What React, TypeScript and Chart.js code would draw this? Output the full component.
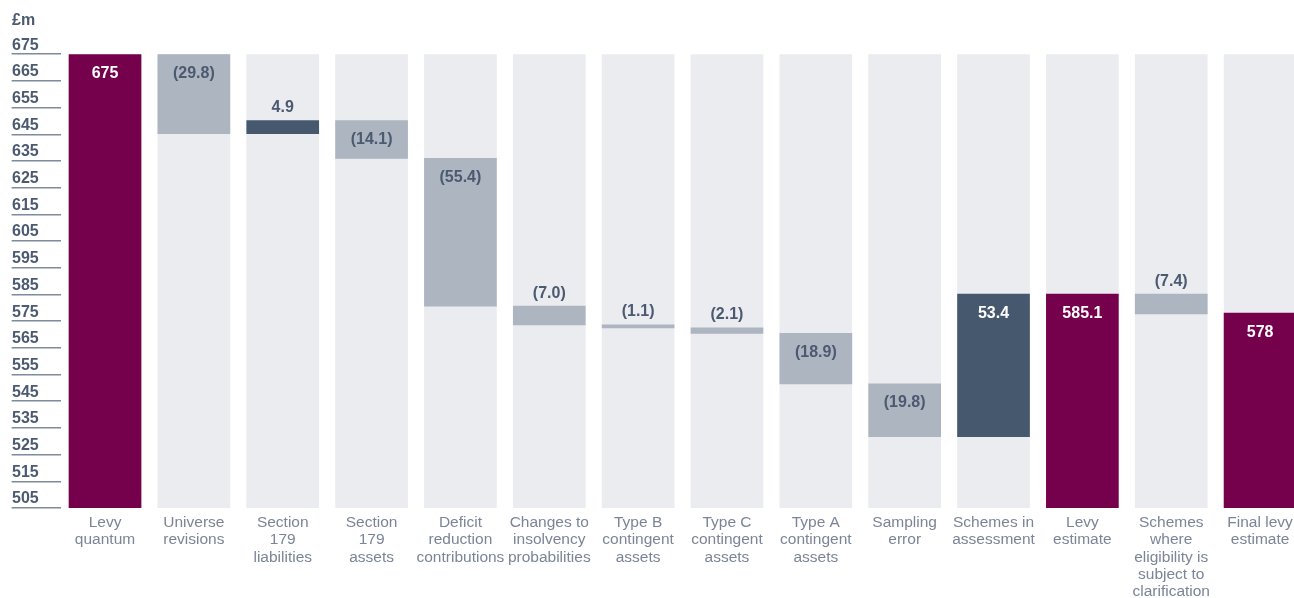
import React, { useEffect, useRef } from "react";
import { Chart, registerables } from "chart.js";

Chart.register(...registerables);

const categories: string[][] = [
  ["Levy", "quantum"],
  ["Universe", "revisions"],
  ["Section", "179", "liabilities"],
  ["Section", "179", "assets"],
  ["Deficit", "reduction", "contributions"],
  ["Changes to", "insolvency", "probabilities"],
  ["Type B", "contingent", "assets"],
  ["Type C", "contingent", "assets"],
  ["Type A", "contingent", "assets"],
  ["Sampling", "error"],
  ["Schemes in", "assessment"],
  ["Levy", "estimate"],
  ["Schemes", "where", "eligibility is", "subject to", "clarification"],
  ["Final levy", "estimate"],
];

const values: number[] = [675, -29.8, 4.9, -14.1, -55.4, -7.0, -1.1, -2.1, -18.9, -19.8, 53.4, 585.1, -7.4, 578];
const kinds: string[] = ["total", "delta", "delta", "delta", "delta", "delta", "delta", "delta", "delta", "delta", "delta", "total", "delta", "total"];

const yTicks: number[] = [505, 515, 525, 535, 545, 555, 565, 575, 585, 595, 605, 615, 625, 635, 645, 655, 665, 675];
const yMin = 505;
const yMax = 675;

const PURPLE = "#75004b";
const SLATE = "#46586e";
const GREY = "#adb5c1";
const BG = "#ebecf0";
const TEXT = "#4b5a70";
const FONT = "'Liberation Sans', Arial, Helvetica, sans-serif";

function buildRanges(): [number, number][] {
  let running = yMin;
  return values.map((v, i) => {
    if (kinds[i] === "total") {
      running = v;
      return [yMin, v];
    }
    const start = running;
    const end = running + v;
    running = end;
    return [Math.min(start, end), Math.max(start, end)];
  });
}

function labelText(i: number): string {
  const v = values[i];
  if (kinds[i] === "total") return String(v);
  if (v < 0) return "(" + Math.abs(v).toFixed(1) + ")";
  return v.toFixed(1);
}

function barColor(i: number): string {
  if (kinds[i] === "total") return PURPLE;
  return values[i] >= 0 ? SLATE : GREY;
}

const labelPlugin = {
  id: "waterfallLabels",
  afterDatasetsDraw(chart: any) {
    const meta = chart.getDatasetMeta(0);
    const ctx = chart.ctx;
    ctx.save();
    ctx.font = "bold 16px " + FONT;
    ctx.textAlign = "center";
    ctx.textBaseline = "middle";
    meta.data.forEach((el: any, i: number) => {
      const top = Math.min(el.y, el.base);
      const h = Math.abs(el.base - el.y);
      const inside = h > 30;
      let y: number;
      let color: string;
      if (inside) {
        y = top + 19;
        color = barColor(i) === GREY ? TEXT : "#ffffff";
      } else {
        y = top - 13;
        color = TEXT;
      }
      ctx.fillStyle = color;
      ctx.fillText(labelText(i), el.x, y);
    });
    ctx.restore();
  },
};

export default function App() {
  const ref = useRef<HTMLCanvasElement>(null);
  useEffect(() => {
    if (!ref.current) return;
    const ranges = buildRanges();
    const chart = new Chart(ref.current, {
      type: "bar",
      data: {
        labels: categories as any,
        datasets: [
          {
            data: ranges as any,
            backgroundColor: values.map((_, i) => barColor(i)),
            barThickness: 72,
            grouped: false,
            order: 1,
          } as any,
          {
            data: categories.map(() => [yMin, yMax]) as any,
            backgroundColor: BG,
            barThickness: 72,
            grouped: false,
            order: 2,
          } as any,
        ],
      },
      options: {
        animation: false,
        responsive: false,
        layout: { padding: { left: 12, right: 5.5, top: 0, bottom: 0 } },
        plugins: {
          legend: { display: false },
          tooltip: { enabled: false },
          title: {
            display: true,
            text: "£m",
            align: "start",
            color: TEXT,
            font: { family: FONT, size: 16, weight: "bold", lineHeight: 1.2 },
            padding: { top: 11, bottom: 24 },
          },
        },
        scales: {
          x: {
            grid: { display: false },
            border: { display: false },
            ticks: {
              autoSkip: false,
              maxRotation: 0,
              minRotation: 0,
              padding: -2,
              color: "#7b8597",
              font: { family: FONT, size: 15.5, lineHeight: 1.12 },
            },
            afterFit: (s: any) => {
              s.height = 90;
            },
          },
          y: {
            min: yMin,
            max: yMax,
            border: { display: false },
            grid: {
              drawOnChartArea: false,
              drawTicks: true,
              tickLength: 49,
              color: "#7f8a9b",
              lineWidth: 1.5,
            },
            ticks: {
              crossAlign: "far",
              labelOffset: -9,
              color: TEXT,
              font: { family: FONT, size: 16, weight: "bold" },
            },
            afterBuildTicks: (s: any) => {
              s.ticks = yTicks.map((v) => ({ value: v }));
            },
            afterFit: (s: any) => {
              s.width = 48.6;
            },
          },
        },
      },
      plugins: [labelPlugin],
    });
    return () => chart.destroy();
  }, []);
  return (
    <div style={{ position: "absolute", left: 0, top: 0, width: 1294, height: 598, overflow: "hidden", background: "#ffffff" }}>
      <canvas ref={ref} width={1310} height={598} style={{ display: "block" }} />
    </div>
  );
}
